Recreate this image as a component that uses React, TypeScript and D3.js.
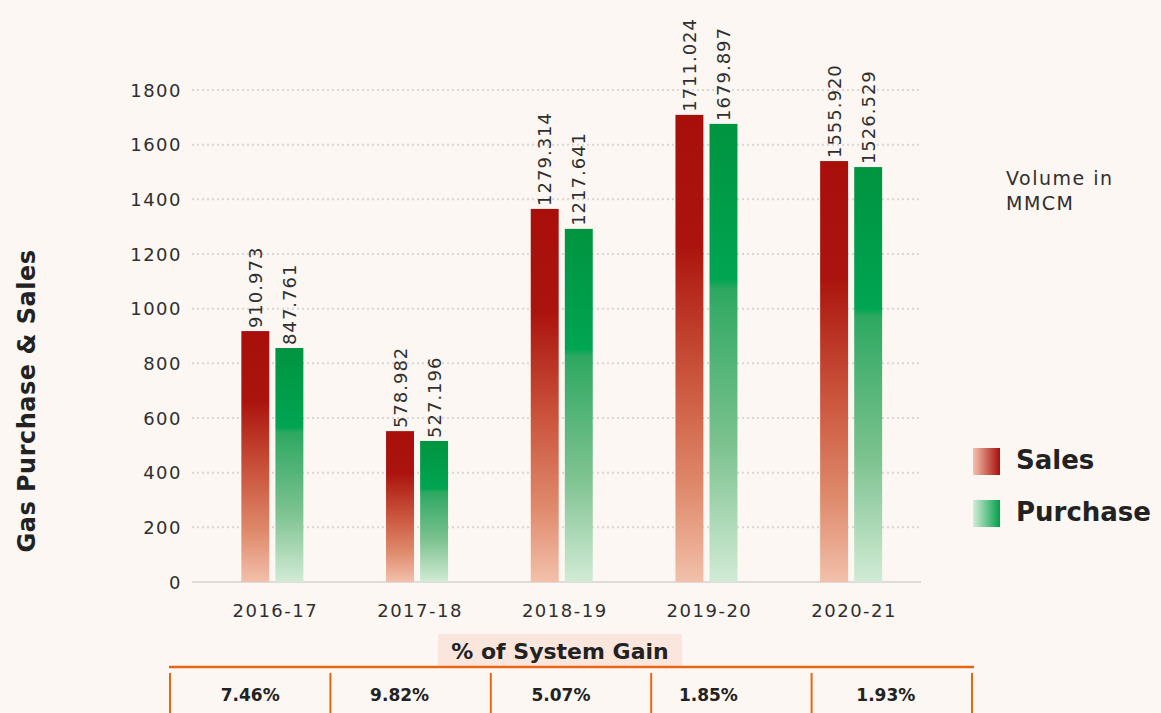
import * as d3 from "d3";
import React, { useRef, useEffect } from "react";

// values
const years = ["2016-17", "2017-18", "2018-19", "2019-20", "2020-21"];
const seriesKeys = ["sales", "purchase"];
const salesBars = [918, 552, 1365, 1709, 1540];
const purchaseBars = [856, 516, 1292, 1676, 1518];
const salesLabels = ["910.973", "578.982", "1279.314", "1711.024", "1555.920"];
const purchaseLabels = ["847.761", "527.196", "1217.641", "1679.897", "1526.529"];
const gainLabels = ["7.46%", "9.82%", "5.07%", "1.85%", "1.93%"];
const yTicks = [0, 200, 400, 600, 800, 1000, 1200, 1400, 1600, 1800];

const FONT = "'DejaVu Sans', sans-serif";
const TEXT = "#2f2f2f";

export default function App() {
  const svgRef = useRef<SVGSVGElement>(null);

  useEffect(() => {
    const width = 1161;
    const height = 713;
    const svg = d3.select(svgRef.current);
    svg.selectAll("*").remove();
    svg.attr("width", width).attr("height", height);

    svg.append("rect").attr("width", width).attr("height", height).attr("fill", "#fcf7f3");

    const defs = svg.append("defs");
    const vGrad = (id, stops) => {
      const g = defs.append("linearGradient").attr("id", id)
        .attr("x1", 0).attr("y1", 0).attr("x2", 0).attr("y2", 1);
      stops.forEach(([o, c]) => g.append("stop").attr("offset", o).attr("stop-color", c));
    };
    const hGrad = (id, stops) => {
      const g = defs.append("linearGradient").attr("id", id)
        .attr("x1", 0).attr("y1", 0).attr("x2", 1).attr("y2", 0);
      stops.forEach(([o, c]) => g.append("stop").attr("offset", o).attr("stop-color", c));
    };
    vGrad("salesGrad", [[0, "#a80f0b"], [0.28, "#ab140e"], [0.55, "#c9523a"], [0.8, "#df8a6c"], [1, "#f2c0aa"]]);
    vGrad("purchaseGrad", [[0, "#009440"], [0.34, "#00a552"], [0.36, "#2da861"], [0.7, "#7cc28f"], [1, "#d2ebd6"]]);
    hGrad("salesLeg", [[0, "#f4c2ae"], [1, "#a80f0b"]]);
    hGrad("purchaseLeg", [[0, "#d5ecd8"], [1, "#00a04a"]]);

    const x0 = d3.scaleBand().domain(years).range([200, 923.5]);
    const x1 = d3.scaleBand().domain(seriesKeys)
      .range([x0.bandwidth() / 2 - 31, x0.bandwidth() / 2 + 31])
      .paddingInner(0.18);
    const y = d3.scaleLinear().domain([0, 1800]).range([582, 90]);

    // grid
    svg.append("g").selectAll("line")
      .data(yTicks.filter((t) => t > 0))
      .enter().append("line")
      .attr("x1", 192).attr("x2", 920)
      .attr("y1", (d) => y(d)).attr("y2", (d) => y(d))
      .attr("stroke", "#d9d6d4").attr("stroke-width", 2)
      .attr("stroke-dasharray", "2,3");
    svg.append("line")
      .attr("x1", 192).attr("x2", 921)
      .attr("y1", y(0)).attr("y2", y(0))
      .attr("stroke", "#dedbd9").attr("stroke-width", 2);

    // y tick labels
    svg.append("g").selectAll("text")
      .data(yTicks).enter().append("text")
      .attr("x", 182).attr("y", (d) => y(d))
      .attr("text-anchor", "end").attr("dominant-baseline", "central")
      .attr("font-family", FONT).attr("font-size", 18)
      .attr("letter-spacing", 1.5).attr("fill", TEXT)
      .text((d) => d);

    // bars
    const rows = years.map((yr, i) => ({
      year: yr,
      items: [
        { key: "sales", value: salesBars[i], label: salesLabels[i] },
        { key: "purchase", value: purchaseBars[i], label: purchaseLabels[i] },
      ],
    }));
    const groups = svg.append("g").selectAll("g")
      .data(rows).enter().append("g")
      .attr("transform", (d) => `translate(${x0(d.year)},0)`);
    groups.selectAll("rect")
      .data((d) => d.items).enter().append("rect")
      .attr("x", (d) => x1(d.key))
      .attr("width", x1.bandwidth())
      .attr("y", (d) => y(d.value))
      .attr("height", (d) => y(0) - y(d.value))
      .attr("fill", (d) => `url(#${d.key}Grad)`);
    groups.selectAll("text")
      .data((d) => d.items).enter().append("text")
      .attr("transform", (d) =>
        `translate(${x1(d.key) + x1.bandwidth() / 2},${y(d.value) - 3}) rotate(-90)`)
      .attr("dominant-baseline", "central")
      .attr("font-family", FONT).attr("font-size", 18)
      .attr("letter-spacing", 1).attr("fill", TEXT)
      .text((d) => d.label);

    // x labels
    svg.append("g").selectAll("text")
      .data(years).enter().append("text")
      .attr("x", (d) => x0(d) + x0.bandwidth() / 2 + 3)
      .attr("y", 610)
      .attr("text-anchor", "middle").attr("dominant-baseline", "central")
      .attr("font-family", FONT).attr("font-size", 18)
      .attr("letter-spacing", 1.5).attr("fill", TEXT)
      .text((d) => d);

    // y axis title
    svg.append("text")
      .attr("transform", "translate(27,401) rotate(-90)")
      .attr("text-anchor", "middle").attr("dominant-baseline", "central")
      .attr("font-family", FONT).attr("font-size", 24).attr("font-weight", "bold")
      .attr("letter-spacing", 0.5).attr("fill", "#222")
      .text("Gas Purchase & Sales");

    // units note
    const note = svg.append("text")
      .attr("font-family", FONT).attr("font-size", 19)
      .attr("letter-spacing", 1.5).attr("fill", TEXT);
    note.append("tspan").attr("x", 1006).attr("y", 185).text("Volume in");
    note.append("tspan").attr("x", 1006).attr("y", 210).text("MMCM");

    // legend
    const legend = [
      { key: "sales", name: "Sales", y: 448 },
      { key: "purchase", name: "Purchase", y: 500 },
    ];
    const lg = svg.append("g").selectAll("g")
      .data(legend).enter().append("g")
      .attr("transform", (d) => `translate(973,${d.y})`);
    lg.append("rect").attr("width", 27).attr("height", 27)
      .attr("fill", (d) => `url(#${d.key}Leg)`);
    lg.append("text")
      .attr("x", 43).attr("y", 12)
      .attr("dominant-baseline", "central")
      .attr("font-family", FONT).attr("font-size", 26).attr("font-weight", "bold")
      .attr("fill", "#222")
      .text((d) => d.name);

    // system gain table
    svg.append("rect")
      .attr("x", 438).attr("y", 634).attr("width", 244).attr("height", 33)
      .attr("fill", "#fbe6dd");
    svg.append("text")
      .attr("x", 560).attr("y", 651)
      .attr("text-anchor", "middle").attr("dominant-baseline", "central")
      .attr("font-family", FONT).attr("font-size", 22).attr("font-weight", "bold")
      .attr("fill", "#222")
      .text("% of System Gain");
    svg.append("line")
      .attr("x1", 169).attr("x2", 974).attr("y1", 667).attr("y2", 667)
      .attr("stroke", "#ea6414").attr("stroke-width", 2.5);

    const cells = d3.scaleBand().domain(years).range([170, 972]);
    const edges = [...years.map((d) => cells(d)), 972];
    svg.append("g").selectAll("line")
      .data(edges).enter().append("line")
      .attr("x1", (d) => d).attr("x2", (d) => d)
      .attr("y1", 673).attr("y2", 713)
      .attr("stroke", "#ea6414").attr("stroke-width", 2);
    const textShift = [0, -11, -10, -23, -6];
    svg.append("g").selectAll("text")
      .data(gainLabels).enter().append("text")
      .attr("x", (d, i) => cells(years[i]) + cells.bandwidth() / 2 + textShift[i])
      .attr("y", 695)
      .attr("text-anchor", "middle").attr("dominant-baseline", "central")
      .attr("font-family", FONT).attr("font-size", 17).attr("font-weight", "bold")
      .attr("fill", "#222")
      .text((d) => d);
  }, []);

  return (
    <svg ref={svgRef} style={{ position: "absolute", left: 0, top: 0, display: "block" }}></svg>
  );
}
